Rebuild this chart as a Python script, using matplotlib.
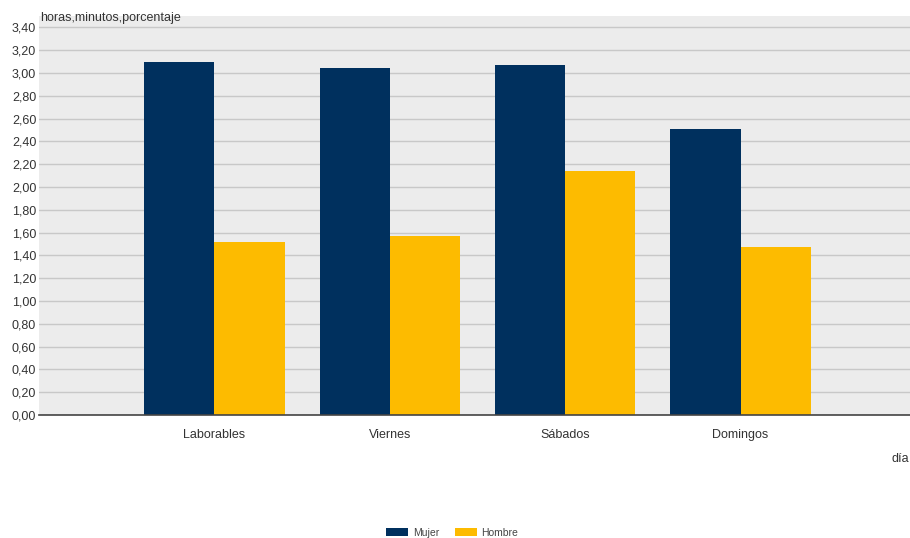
import numpy as np
import matplotlib.pyplot as plt

plt.rcParams['font.family'] = ['Liberation Sans', 'DejaVu Sans']

categorias = ['Laborables', 'Viernes', 'Sábados', 'Domingos']
mujer = [3.10, 3.04, 3.07, 2.51]
hombre = [1.52, 1.57, 2.14, 1.47]
yticks = np.arange(0, 3.41, 0.2)

W, H = 910, 538
fig = plt.figure(figsize=(W / 100, H / 100), dpi=100)
ax = fig.add_axes([39 / W, (H - 415) / H, (916 - 39) / W, (415 - 16) / H])
ax.set_facecolor('#ececec')

x = np.arange(len(categorias))
w = 0.4
ax.bar(x - w / 2, mujer, w, color='#00305e', label='Mujer', zorder=3)
ax.bar(x + w / 2, hombre, w, color='#fdbb00', label='Hombre', zorder=3)

ax.set_xlim(-1, 4)
ax.set_ylim(0, 3.5)
ax.set_yticks(yticks)
ax.set_yticklabels([f'{v:.2f}'.replace('.', ',') for v in yticks])
ax.set_xticks(x)
ax.set_xticklabels(categorias)
ax.tick_params(axis='both', length=0, labelsize=9, colors='#333333')
ax.tick_params(axis='x', pad=10)
ax.tick_params(axis='y', pad=2)
ax.grid(axis='y', color='#c8c8c8', linewidth=1, zorder=0)
for s in ['top', 'right', 'left']:
    ax.spines[s].set_visible(False)
ax.spines['bottom'].set_color('#444444')
ax.spines['bottom'].set_linewidth(1.2)
ax.spines['bottom'].set_zorder(4)

fig.text(40 / W, 1 - 18 / H, 'horas,minutos,porcentaje', fontsize=9,
         color='#333333', va='center')
fig.text(892 / W, 1 - 459 / H, 'día', fontsize=9, color='#333333', va='center')

fig.legend(loc='center', bbox_to_anchor=(452 / W, 1 - 533 / H), ncol=2,
           frameon=False, fontsize=7.5, handlelength=2.2, handleheight=0.8,
           columnspacing=1.5, handletextpad=0.4, labelcolor='#444444')

fig.savefig('out.png', dpi=100)
